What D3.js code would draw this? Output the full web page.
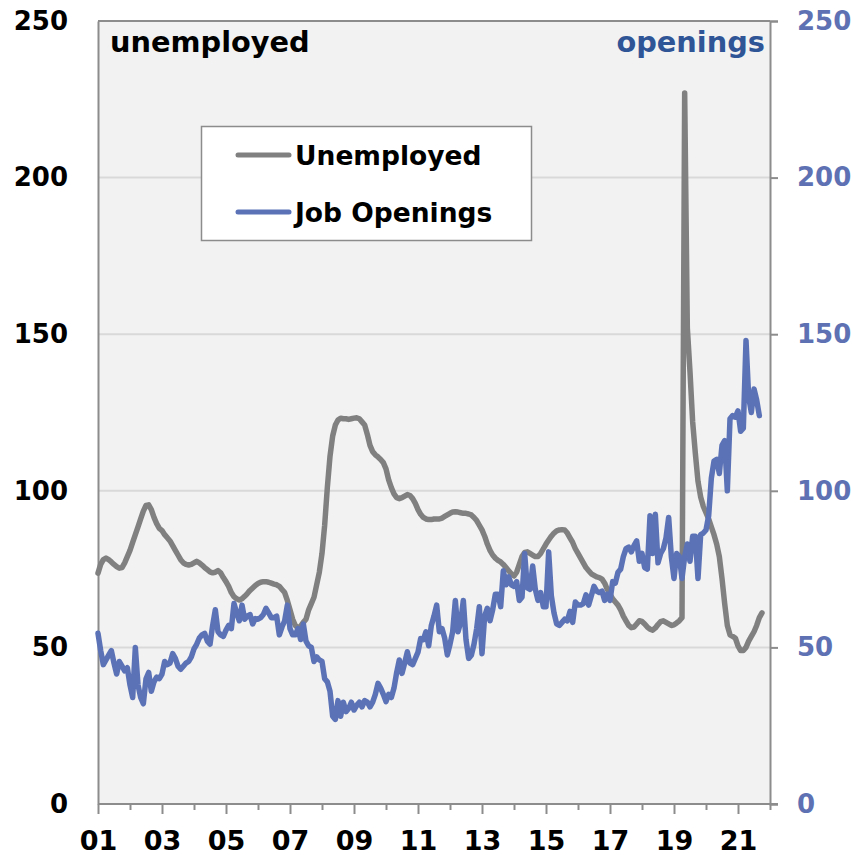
<!DOCTYPE html>
<html>
<head>
<meta charset="utf-8">
<script src="https://cdn.jsdelivr.net/npm/d3@7"></script>
<style>
  html, body { margin: 0; padding: 0; background: #ffffff; }
  svg { display: block; }
  text { font-family: "DejaVu Sans", Verdana, sans-serif; font-weight: bold; }
</style>
</head>
<body>
<div id="chart"></div>
<script>
// ---------------- DATA ----------------
const startYear = 2001;            // first monthly observation at the "01" tick
const seriesNames = ["Unemployed", "Job Openings"];
const axisTitles = ["unemployed", "openings"];
const yTicks = [0, 50, 100, 150, 200, 250];
const xTickYears = d3.range(2001, 2023);
const xTickLabels = ["01", "03", "05", "07", "09", "11", "13", "15", "17", "19", "21"];

// Unemployed (left axis), monthly
const unemployed = [
  73.7, 76.5, 78, 78.5, 78, 77.3, 76.5, 75.8, 75.3, 75.5, 77, 79,
  81, 83.5, 86, 88.5, 91, 93.5, 95.3, 95.5, 94, 91.5, 89.5, 88,
  87.3, 86, 85, 84, 82.5, 81, 79.5, 78, 77, 76.5, 76.3, 76.5,
  77, 77.5, 77, 76.3, 75.5, 74.8, 74.1, 73.8, 74, 74.5, 73.8, 72.3,
  71, 69.5, 67.5, 66.2, 65.5, 65.1, 65.5, 66.3, 67.2, 68.2, 69, 69.8,
  70.4, 70.8, 71, 71, 70.8, 70.5, 70.2, 70, 69.5, 68.5, 67.5, 65,
  62, 59, 57, 56.2, 56.8, 58, 59, 62, 64, 66, 70, 74,
  80, 89, 101, 111, 117.5, 121, 122.6, 123.2, 123, 123, 122.8, 123,
  123.2, 123.3, 123, 122, 121, 118, 114.5, 112.5, 111.5, 110.8, 110, 109,
  107, 103.5, 101, 99, 97.8, 97.5, 97.8, 98.3, 98.8, 98.5, 97.5, 96,
  94, 92.5, 91.5, 91, 90.8, 90.8, 91, 91, 91, 91.3, 91.8, 92.3,
  92.8, 93.2, 93.3, 93.2, 93, 92.8, 92.8, 92.6, 92.3, 91.5, 90.5, 89,
  87.5, 85.5, 83, 81, 79.5, 78.5, 77.8, 77.3, 76.5, 75.5, 74.5, 73.5,
  72.8, 74, 76.5, 79, 80.3, 80.5, 80, 79.5, 79, 79, 80, 81.5,
  83, 84.3, 85.5, 86.5, 87.2, 87.5, 87.6, 87.5, 86.5, 85, 83.5, 81.5,
  80, 78.5, 77, 75.5, 74.5, 73.5, 73, 72.5, 72.3, 71.8, 70.5, 68.5,
  67, 65.5, 64.5, 63.5, 62, 60, 58.5, 57, 56.3, 56.5, 57.5, 58.5,
  58.3, 57.5, 56.5, 55.8, 55.5, 56.2, 57.3, 58.2, 58.5, 58, 57.5, 57,
  57.2, 57.8, 58.5, 59.5, 227, 152, 138, 122, 112, 103, 98, 95,
  93, 91, 88.5, 86, 83, 79, 72, 64, 57, 54, 53.5, 53,
  50.5, 49, 49, 50, 52, 53.5, 55, 57, 59.5, 61
];

// Job openings (right axis), monthly
const openings = [
  54.5, 49, 44.5, 46, 47.5, 49, 45, 41.5, 45.5, 44, 42.5, 43.5,
  38, 34, 50, 38, 34, 32, 40, 42, 36, 39, 40.5, 40,
  41.5, 45.5, 44.5, 45, 48, 46.5, 44, 43, 44, 45, 45.5, 47,
  49.5, 51, 53, 54, 54.5, 52, 51, 57, 62, 55, 54, 53.5,
  55.5, 57, 56, 64, 61, 58.5, 63.5, 59, 60, 60.5, 57.5, 59.2,
  59, 59.5, 60.5, 62.5, 61, 59.5, 59.5, 60, 54, 56.5, 58.5, 63.5,
  56, 54, 54, 56, 52.5, 57.5, 52, 50.5, 50, 45.5, 47, 46,
  45.5, 40, 39, 36, 28, 27, 33, 28, 32.5, 29.5, 30.5, 32.5,
  30, 31.5, 32.5, 31, 33, 32.5, 31, 32.5, 35, 38.5, 37, 35,
  32.7, 35, 34, 37, 42, 46, 41.7, 45, 48.6, 45, 44.5, 46.5,
  48.5, 52.8, 52.5, 55, 50.5, 57, 60, 63.5, 55, 56, 53, 47.6,
  51, 55, 65, 55, 58, 65, 52.5, 46.5, 47.5, 51, 56, 63,
  48, 60, 62.5, 58.5, 62, 67, 67, 63, 74.5, 70, 72.5, 70,
  69.5, 71, 65, 66, 80, 69, 68.5, 76, 68.5, 65, 67.5, 63,
  63, 80.5, 66.5, 61, 57.5, 57, 58, 59, 58.5, 61.5, 58, 64.5,
  63.5, 63.5, 64, 66.8, 63.5, 66.5, 69.5, 68, 67.5, 68, 65, 67,
  65, 71, 70.5, 74, 75, 79, 81.5, 82, 80.5, 82.5, 84, 77.5,
  80, 75.5, 75, 92, 80, 92.5, 77, 80, 81.5, 85, 91.5, 79,
  72, 80, 79, 72, 79, 83, 77.5, 85.5, 85.5, 72, 86, 86.5,
  87.5, 92, 104, 109.5, 110, 105.5, 114.5, 116, 100, 123, 124, 123.5,
  125.5, 119, 120, 148, 130, 125, 132.5, 129, 124
];

// ---------------- CHART ----------------
const W = 853, H = 855;
const L = 98, R = 770, T = 21, B = 804;
const greyLine = "#808080", blueLine = "#5b72b7";
const axisCol = "#8c8c8c", gridCol = "#d9d9d9";
const rightLabelCol = "#5d71b3", openingsTitleCol = "#2f5597";
const FS = 26;

const svg = d3.select("#chart").append("svg").attr("width", W).attr("height", H);

const x = d3.scaleLinear().domain([2001, 2022]).range([L, R]);
const yL = d3.scaleLinear().domain([0, 250]).range([B, T]);
const yR = d3.scaleLinear().domain([0, 250]).range([B, T]);

// plot background
svg.append("rect").attr("x", L).attr("y", T).attr("width", R - L).attr("height", B - T).attr("fill", "#f2f2f2");

// gridlines
svg.append("g").selectAll("line").data(yTicks.filter(v => v > 0 && v < 250)).join("line")
  .attr("x1", L).attr("x2", R).attr("y1", d => yL(d)).attr("y2", d => yL(d))
  .attr("stroke", gridCol).attr("stroke-width", 2);

// top border
svg.append("line").attr("x1", L).attr("x2", R).attr("y1", yL(250)).attr("y2", yL(250))
  .attr("stroke", axisCol).attr("stroke-width", 2);

// left axis
const leftAxis = svg.append("g").attr("transform", `translate(${L},0)`)
  .call(d3.axisLeft(yL).tickValues(yTicks).tickSize(0).tickPadding(30).tickFormat(d3.format("d")));
leftAxis.select(".domain").attr("stroke", axisCol).attr("stroke-width", 2);
leftAxis.selectAll("text").attr("font-size", FS).attr("fill", "#000").attr("font-family", '"DejaVu Sans", Verdana, sans-serif');

// right axis
const rightAxis = svg.append("g").attr("transform", `translate(${R},0)`)
  .call(d3.axisRight(yR).tickValues(yTicks).tickSize(8).tickPadding(19).tickFormat(d3.format("d")));
rightAxis.select(".domain").attr("stroke", axisCol).attr("stroke-width", 2);
rightAxis.selectAll(".tick line").attr("stroke", axisCol).attr("stroke-width", 2);
rightAxis.selectAll("text").attr("font-size", FS).attr("fill", rightLabelCol).attr("font-family", '"DejaVu Sans", Verdana, sans-serif');

// bottom axis
const labelFor = yr => {
  const s = String(yr).slice(2);
  return xTickLabels.includes(s) ? s : "";
};
const bottomAxis = svg.append("g").attr("transform", `translate(0,${B})`)
  .call(d3.axisBottom(x).tickValues(xTickYears).tickSizeInner(10).tickSizeOuter(0).tickPadding(17).tickFormat(labelFor));
bottomAxis.select(".domain").attr("stroke", axisCol).attr("stroke-width", 2)
  .attr("d", `M${L},0H${R + 8}`);
bottomAxis.selectAll(".tick line").attr("stroke", axisCol).attr("stroke-width", 2)
  .attr("y2", d => labelFor(d) ? 10 : 6);
bottomAxis.selectAll("text").attr("font-size", 27).attr("fill", "#000").attr("font-family", '"DejaVu Sans", Verdana, sans-serif');

// lines
const lineL = d3.line().x((d, i) => x(startYear + i / 12)).y(d => yL(d));
const lineR = d3.line().x((d, i) => x(startYear + i / 12)).y(d => yR(d));

svg.append("path").datum(unemployed).attr("d", lineL)
  .attr("fill", "none").attr("stroke", greyLine).attr("stroke-width", 5.5)
  .attr("stroke-linejoin", "round").attr("stroke-linecap", "round");
svg.append("path").datum(openings).attr("d", lineR)
  .attr("fill", "none").attr("stroke", blueLine).attr("stroke-width", 5.5)
  .attr("stroke-linejoin", "round").attr("stroke-linecap", "round");

// axis titles inside plot
svg.append("text").attr("x", 110).attr("y", 52).attr("font-size", 28.8).attr("fill", "#000").text(axisTitles[0]);
svg.append("text").attr("x", 765).attr("y", 52).attr("font-size", 28.8).attr("fill", openingsTitleCol)
  .attr("text-anchor", "end").text(axisTitles[1]);

// legend
const lg = svg.append("g");
lg.append("rect").attr("x", 201.5).attr("y", 126.5).attr("width", 330).attr("height", 114)
  .attr("fill", "#ffffff").attr("stroke", axisCol).attr("stroke-width", 1.5);
const legendItems = [
  { name: seriesNames[0], color: greyLine, y: 155 },
  { name: seriesNames[1], color: blueLine, y: 212 }
];
legendItems.forEach(it => {
  lg.append("line").attr("x1", 238).attr("x2", 289).attr("y1", it.y).attr("y2", it.y)
    .attr("stroke", it.color).attr("stroke-width", 5).attr("stroke-linecap", "round");
  lg.append("text").attr("x", 295).attr("y", it.y).attr("dy", "0.36em")
    .attr("font-size", 26.5).attr("fill", "#000").text(it.name);
});
</script>
</body>
</html>
